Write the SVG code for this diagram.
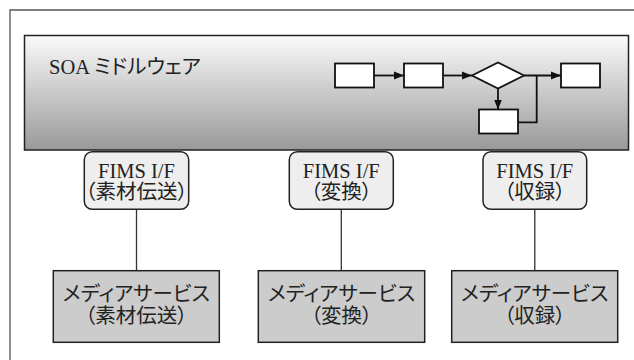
<svg xmlns="http://www.w3.org/2000/svg" width="634" height="360" viewBox="0 0 634 360">
<defs>
<linearGradient id="soaGrad" x1="0" y1="0" x2="0" y2="1">
<stop offset="0" stop-color="#fafafa"/>
<stop offset="1" stop-color="#999999"/>
</linearGradient>
<marker id="arr" viewBox="0 0 10 10" refX="10" refY="5" markerWidth="10" markerHeight="10" markerUnits="userSpaceOnUse" orient="auto">
<path d="M0,1 L10,5 L0,9 Z" fill="#111"/>
</marker>
<style>
text { font-family: "Liberation Serif", "Noto Sans CJK JP", serif; fill: #222; font-feature-settings: "palt"; }
.lbl { font-size: 20.5px; text-anchor: middle; }
.fims { fill: #eeeeee; stroke: #222; stroke-width: 1.5; }
.media { fill: #cccccc; stroke: #222; stroke-width: 1.5; }
.fb { fill: #fff; stroke: #111; stroke-width: 1.8; }
.fl { fill: none; stroke: #111; stroke-width: 1.8; }
.conn { stroke: #333; stroke-width: 1.3; fill: none; }
</style>
</defs>
<path d="M10,360 V10 H634" fill="none" stroke="#555" stroke-width="1.3"/>
<g id="soa">
<rect x="24.5" y="35.5" width="604" height="114.5" fill="url(#soaGrad)" stroke="#222" stroke-width="1.5"/>
<text x="49" y="74" style="font-size:20.5px">SOA ミドルウェア</text>
<g id="flow">
<rect class="fb" x="335" y="63.5" width="39" height="24"/>
<rect class="fb" x="404" y="63.5" width="39" height="24"/>
<path class="fb" d="M472,75.5 L498,62.5 L524,75.5 L498,88.5 Z"/>
<rect class="fb" x="561" y="63.5" width="39" height="24"/>
<rect class="fb" x="479" y="109.5" width="39" height="24"/>
<path class="fl" d="M374,75.5 H404" marker-end="url(#arr)"/>
<path class="fl" d="M443,75.5 H472" marker-end="url(#arr)"/>
<path class="fl" d="M524,75.5 H561" marker-end="url(#arr)"/>
<path class="fl" d="M498,88.5 V109.5" marker-end="url(#arr)"/>
<path class="fl" d="M518,122.3 H536.7 V75.5"/>
</g>
</g>
<g id="connectors">
<line class="conn" x1="136.5" y1="209" x2="136.5" y2="271"/>
<line class="conn" x1="341.3" y1="209" x2="341.3" y2="271"/>
<line class="conn" x1="534.8" y1="209" x2="534.8" y2="271"/>
</g>
<g id="fims1">
<rect class="fims" x="84.3" y="151.7" width="104.4" height="57.6" rx="8"/>
<text class="lbl" x="136.5" y="177.5">FIMS I/F</text>
<text class="lbl" x="136.5" y="199">（素材伝送）</text>
</g>
<g id="fims2">
<rect class="fims" x="289.3" y="151.7" width="104" height="57.6" rx="8"/>
<text class="lbl" x="341.3" y="177.5">FIMS I/F</text>
<text class="lbl" x="341.3" y="199">（変換）</text>
</g>
<g id="fims3">
<rect class="fims" x="483" y="151.7" width="103.7" height="57.6" rx="8"/>
<text class="lbl" x="534.8" y="177.5">FIMS I/F</text>
<text class="lbl" x="534.8" y="199">（収録）</text>
</g>
<g id="media1">
<rect class="media" x="53.3" y="270.7" width="166" height="71.6"/>
<text class="lbl" x="136.3" y="301">メディアサービス</text>
<text class="lbl" x="136.3" y="322.5">（素材伝送）</text>
</g>
<g id="media2">
<rect class="media" x="258.3" y="270.7" width="166.4" height="71.6"/>
<text class="lbl" x="341.5" y="301">メディアサービス</text>
<text class="lbl" x="341.5" y="322.5">（変換）</text>
</g>
<g id="media3">
<rect class="media" x="451.7" y="270.7" width="166" height="71.6"/>
<text class="lbl" x="534.7" y="301">メディアサービス</text>
<text class="lbl" x="534.7" y="322.5">（収録）</text>
</g>
</svg>
